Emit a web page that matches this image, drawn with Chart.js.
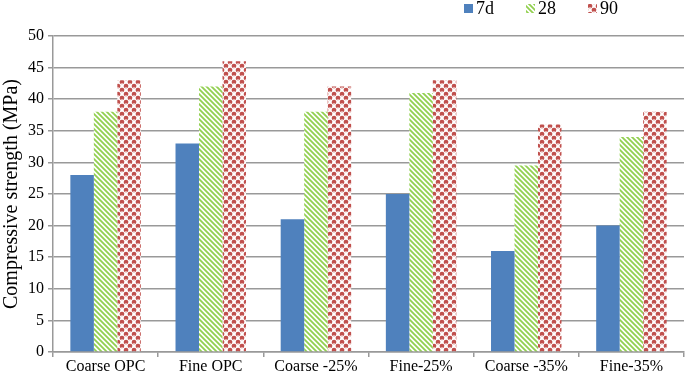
<!DOCTYPE html>
<html>
<head>
<meta charset="utf-8">
<script src="https://cdn.jsdelivr.net/npm/chart.js@4/dist/chart.umd.min.js"></script>
<style>
  html, body { margin: 0; padding: 0; background: #fff; }
  #wrap { width: 685px; height: 375px; }
</style>
</head>
<body>
<div id="wrap"><canvas id="grafico" width="685" height="375"></canvas></div>
<script>
const categorias = ['Coarse OPC', 'Fine OPC', 'Coarse -25%', 'Fine-25%', 'Coarse -35%', 'Fine-35%'];
const series = ['7d', '28', '90'];
const dias7 = [28, 33, 21, 25, 16, 20];
const dias28 = [38, 42, 38, 41, 29.5, 34];
const dias90 = [43, 46, 42, 43, 36, 38];
const yTicks = [0, 5, 10, 15, 20, 25, 30, 35, 40, 45, 50];

const azul = '#4F81BD';
const verde = '#92D050';
const vermelho = '#C0504D';
const fonte = '"Liberation Serif", "Times New Roman", serif';

// pattern listrado verde
const listras = () => {
    const c = document.createElement('canvas');
    c.width = 5; c.height = 5;
    const g = c.getContext('2d');
    g.fillStyle = '#fff';
    g.fillRect(0, 0, 5, 5);
    g.strokeStyle = verde;
    g.lineWidth = 1.8;
    g.beginPath();
    g.moveTo(-1, -1); g.lineTo(6, 6);
    g.moveTo(-1, 4); g.lineTo(1, 6);
    g.moveTo(4, -1); g.lineTo(6, 1);
    g.stroke();
    return g.createPattern(c, 'repeat');
};

// pattern de bolinhas vermelhas
const bolinhas = () => {
    const c = document.createElement('canvas');
    c.width = 8; c.height = 8;
    const g = c.getContext('2d');
    g.fillStyle = '#fff';
    g.fillRect(0, 0, 8, 8);
    g.fillStyle = vermelho;
    [[2, 2], [6, 6], [6, -2], [-2, 6], [10, 6], [6, 10], [-2, -2], [10, 10], [10, -2], [-2, 10], [2, 10], [10, 2]].forEach(([x, y]) => {
        g.beginPath();
        g.arc(x, y, 2.3, 0, Math.PI * 2);
        g.fill();
    });
    g.fillStyle = 'rgba(255,255,255,0.5)';
    g.fillRect(1, 3, 2, 1);
    g.fillRect(5, 7, 2, 1);
    return g.createPattern(c, 'repeat');
};

const fundos = [azul, listras(), bolinhas()];

const legendaTopo = {
    id: 'legendaTopo',
    afterDraw(chart) {
        const ctx = chart.ctx;
        ctx.save();
        ctx.font = '18px ' + fonte;
        ctx.textBaseline = 'middle';
        ctx.textAlign = 'left';
        let x = chart.width - 221;
        series.forEach((nome, i) => {
            ctx.fillStyle = fundos[i];
            ctx.fillRect(x, 4, 9, 9);
            ctx.fillStyle = '#000';
            ctx.fillText(nome, x + 12, 9);
            x += 62;
        });
        ctx.restore();
    }
};

const ctx = document.getElementById('grafico').getContext('2d');
const grafico = new Chart(ctx, {
    type: 'bar',
    data: {
        labels: categorias,
        datasets: [
            { label: series[0], data: dias7, backgroundColor: fundos[0] },
            { label: series[1], data: dias28, backgroundColor: fundos[1] },
            { label: series[2], data: dias90, backgroundColor: fundos[2] },
        ]
    },
    plugins: [legendaTopo],
    options: {
        responsive: false,
        animation: false,
        layout: {
            padding: { top: 36, right: 1, left: 0, bottom: 0 }
        },
        datasets: {
            bar: {
                categoryPercentage: 0.67,
                barPercentage: 1,
            }
        },
        plugins: {
            legend: { display: false },
            tooltip: { enabled: false },
        },
        scales: {
            x: {
                grid: {
                    drawOnChartArea: false,
                    drawTicks: true,
                    tickLength: 5,
                    color: '#999',
                    lineWidth: 1.5,
                },
                border: { color: '#999', width: 1.5 },
                ticks: {
                    color: '#000',
                    padding: 0,
                    maxRotation: 0,
                    autoSkip: false,
                    font: { family: fonte, size: 16 },
                },
                afterFit(scale) { scale.height = 23; },
            },
            y: {
                min: 0,
                max: 50,
                afterBuildTicks(scale) {
                    scale.ticks = yTicks.map(v => ({ value: v }));
                },
                grid: {
                    color: '#999',
                    lineWidth: 1.5,
                    tickLength: 5,
                },
                border: { color: '#999', width: 1.5 },
                ticks: {
                    color: '#000',
                    padding: 4,
                    font: { family: fonte, size: 16 },
                },
                title: {
                    display: true,
                    text: 'Compressive strength (MPa)',
                    color: '#000',
                    padding: { top: 0, bottom: 1 },
                    font: { family: fonte, size: 20 },
                },
                afterFit(scale) { scale.width = 53; },
            }
        },
    },
});
</script>
</body>
</html>
